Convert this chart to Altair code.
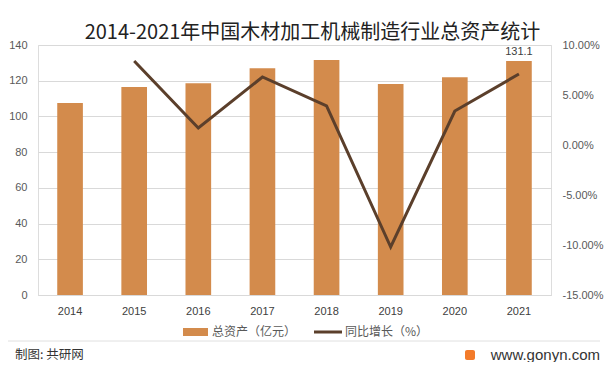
import altair as alt
import pandas as pd

years = ["2014", "2015", "2016", "2017", "2018", "2019", "2020", "2021"]
assets = [107.5, 116.5, 118.6, 127.0, 131.6, 118.1, 122.0, 131.1]
growth_years = ["2015", "2016", "2017", "2018", "2019", "2020", "2021"]
growth = [0.084, 0.017, 0.068, 0.039, -0.102, 0.034, 0.071]
left_ticks = [0, 20, 40, 60, 80, 100, 120, 140]
right_ticks = [-0.15, -0.10, -0.05, 0.0, 0.05, 0.10]

bar_df = pd.DataFrame({"year": years, "assets": assets})
line_df = pd.DataFrame({"year": growth_years, "growth": growth})
one = pd.DataFrame({"a": [0]})

W, H = 513, 250
BAR = "#D38B4C"
LINE = "#5B3F2B"
FONT = "Noto Sans CJK SC"
NUMFONT = "Liberation Sans"

xscale = alt.Scale(domain=years, paddingInner=0.6, paddingOuter=0.3)
xenc = alt.X("year:N", sort=years, title=None, scale=xscale,
             axis=alt.Axis(labelAngle=0, labelFont=NUMFONT, labelFontSize=11,
                           labelColor="#404040", domainColor="#D9D9D9",
                           ticks=False, labelPadding=10, grid=False))
left_axis = alt.Axis(values=left_ticks, labelFont=NUMFONT, labelFontSize=11,
                     labelColor="#595959", domain=False, ticks=False,
                     labelPadding=11, gridColor="#D9D9D9", labelOverlap=False)
yscale = alt.Scale(domain=[0, 140], nice=False)

bars = alt.Chart(bar_df).mark_bar(color=BAR).encode(
    x=xenc, y=alt.Y("assets:Q", title=None, scale=yscale, axis=left_axis))

label = alt.Chart(bar_df[bar_df.year == "2021"]).mark_text(
    dy=-9, font=NUMFONT, fontSize=11, color="#404040"
).encode(
    x=alt.X("year:N", sort=years, scale=xscale),
    y=alt.Y("assets:Q", title=None, scale=yscale, axis=left_axis),
    text=alt.Text("assets:Q", format=".1f"),
)

line = alt.Chart(line_df).mark_line(color=LINE, strokeWidth=3).encode(
    x=alt.X("year:N", sort=years, scale=xscale),
    y=alt.Y("growth:Q", title=None,
            scale=alt.Scale(domain=[-0.15, 0.10], nice=False),
            axis=alt.Axis(orient="right", values=right_ticks,
                          labelExpr="replace(format(datum.value, '.2%'), '\u2212', '-')",
                          labelFont=NUMFONT, labelFontSize=11, labelColor="#595959",
                          domain=False, ticks=False, grid=False, labelPadding=11,
                          labelOverlap=False)),
)

base = alt.Chart(one)
leg_rect = base.mark_rect(color=BAR).encode(
    x=alt.value(145), x2=alt.value(170), y=alt.value(283), y2=alt.value(291))
leg_t1 = base.mark_text(text="总资产（亿元）", align="left", baseline="middle",
                        font=FONT, fontSize=12, color="#595959").encode(
    x=alt.value(174), y=alt.value(287))
leg_line = base.mark_rule(color=LINE, strokeWidth=3).encode(
    x=alt.value(276), x2=alt.value(304), y=alt.value(287))
leg_t2 = base.mark_text(text="同比增长（%）", align="left", baseline="middle",
                        font=FONT, fontSize=12, color="#595959").encode(
    x=alt.value(307), y=alt.value(287))

sep = base.mark_rule(color="#E0E0E0", strokeWidth=1).encode(
    x=alt.value(-32), x2=alt.value(562), y=alt.value(296))
foot1 = base.mark_text(text="制图: 共研网", align="left", baseline="middle",
                       font=FONT, fontSize=12.5, color="#333333").encode(
    x=alt.value(-23), y=alt.value(310))
foot2 = base.mark_text(text="www.gonyn.com", align="right", baseline="middle",
                       font=NUMFONT, fontSize=15, color="#333333").encode(
    x=alt.value(562), y=alt.value(310))
icon = base.mark_rect(color="#F37B2A", cornerRadius=2).encode(
    x=alt.value(427), x2=alt.value(437), y=alt.value(305), y2=alt.value(315))

main = alt.layer(alt.layer(bars, label), line).resolve_scale(y="independent")

chart = alt.layer(
    main, leg_rect, leg_t1, leg_line, leg_t2, sep, foot1, foot2, icon
).properties(
    width=W, height=H,
    title=alt.TitleParams("2014-2021年中国木材加工机械制造行业总资产统计",
                          font=FONT, fontSize=20, fontWeight="normal",
                          color="#222222", anchor="middle", dx=18, dy=8, offset=4),
    autosize=alt.AutoSizeParams(type="none"),
    padding={"left": 30, "top": 37, "right": 53, "bottom": 67},
).configure_view(stroke=None).configure(background="white")

chart.save("out.html", embed_options={"renderer": "svg", "actions": False})
